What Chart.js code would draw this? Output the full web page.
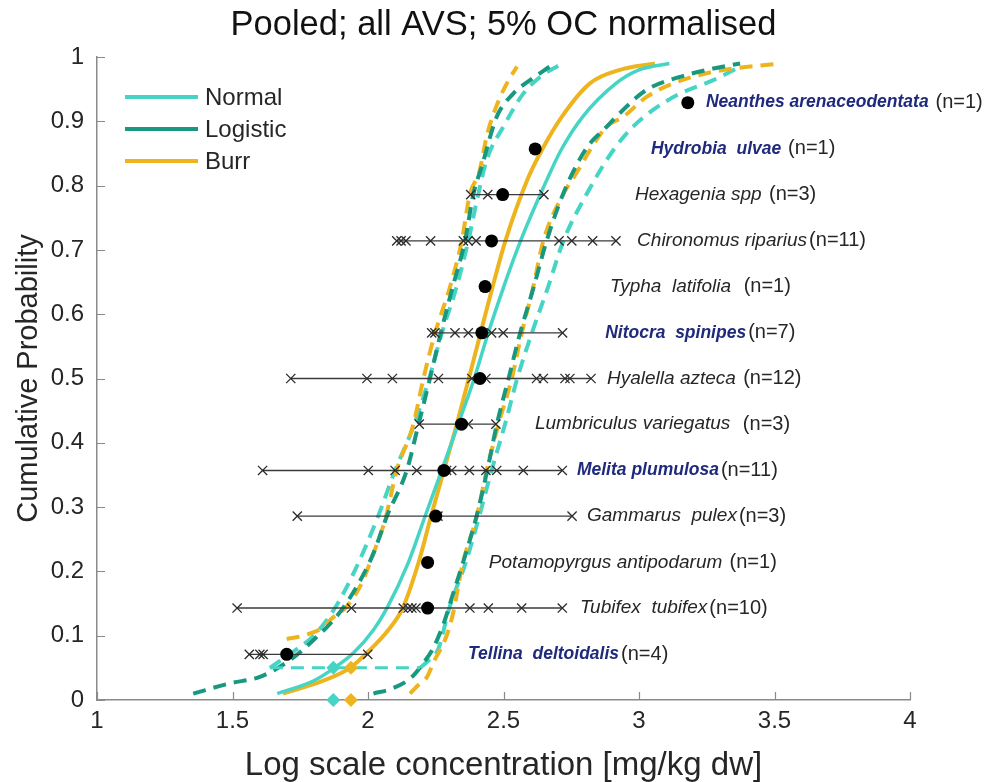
<!DOCTYPE html>
<html>
<head>
<meta charset="utf-8">
<title>Pooled SSD - all AVS, 5% OC normalised</title>
<script src="https://cdn.jsdelivr.net/npm/chart.js@4.4.0/dist/chart.umd.min.js"></script>
<style>
  html, body { margin: 0; padding: 0; background: #fff; }
</style>
</head>
<body>
<canvas id="ssdChart" width="994" height="782"></canvas>
<script>
// axis ticks
const xTicks = [1, 1.5, 2, 2.5, 3, 3.5, 4];
const yTicks = [0, 0.1, 0.2, 0.3, 0.4, 0.5, 0.6, 0.7, 0.8, 0.9, 1];

// species, ranked from the most sensitive (bottom) to the least sensitive (top)
const species = [
    'Tellina  deltoidalis', 'Tubifex  tubifex', 'Potamopyrgus antipodarum ', 'Gammarus  pulex',
    'Melita plumulosa', 'Lumbriculus variegatus  ', 'Hyalella azteca ', 'Nitocra  spinipes',
    'Typha  latifolia  ', 'Chironomus riparius', 'Hexagenia spp ', 'Hydrobia  ulvae ',
    'Neanthes arenaceodentata '
];
const saltwater = [true, false, false, false, true, false, false, true, false, false, false, true, true];
const rankProb = [0.071, 0.143, 0.214, 0.286, 0.357, 0.429, 0.5, 0.571, 0.643, 0.714, 0.786, 0.857, 0.929];
const speciesMean = [1.70, 2.22, 2.22, 2.25, 2.28, 2.345, 2.413, 2.42, 2.432, 2.456, 2.497, 2.617, 3.18];
const speciesTests = [
    [1.562, 1.601, 1.613, 1.999],
    [1.517, 1.939, 2.130, 2.148, 2.162, 2.177, 2.376, 2.444, 2.567, 2.717],
    [2.22],
    [1.739, 2.258, 2.753],
    [1.611, 2.001, 2.100, 2.180, 2.29, 2.309, 2.374, 2.435, 2.475, 2.573, 2.717],
    [2.189, 2.370, 2.472],
    [1.715, 1.996, 2.090, 2.260, 2.383, 2.41, 2.435, 2.622, 2.647, 2.727, 2.745, 2.823],
    [2.235, 2.247, 2.321, 2.370, 2.456, 2.499, 2.718],
    [2.432],
    [2.106, 2.122, 2.140, 2.231, 2.352, 2.369, 2.399, 2.705, 2.752, 2.829, 2.915],
    [2.379, 2.442, 2.649],
    [2.617],
    [3.18]
];
// log concentration where each species label starts
const labelStart = [2.369, 2.782, 2.446, 2.808, 2.771, 2.616, 2.882, 2.875, 2.893, 2.993, 2.985, 3.044, 3.247];

// fitted distributions (cumulative probability vs log concentration)
const fitProb = [0.01, 0.03, 0.05, 0.073, 0.109, 0.143, 0.213, 0.285, 0.357, 0.428, 0.5, 0.57, 0.643, 0.714, 0.809, 0.855, 0.907, 0.959, 0.98, 0.99];
const normalFitX = [1.665, 1.80, 1.876, 1.946, 2.02, 2.07, 2.148, 2.21, 2.272, 2.332, 2.392, 2.443, 2.501, 2.563, 2.66, 2.712, 2.792, 2.915, 3.0, 3.112];
const burrFitX = [1.686, 1.835, 1.934, 1.995, 2.075, 2.128, 2.186, 2.232, 2.28, 2.327, 2.372, 2.415, 2.46, 2.507, 2.588, 2.641, 2.715, 2.819, 2.93, 3.059];

// confidence bounds
const normalLoX = [1.638, 1.74, 1.80, 1.878, 1.95, 2.032, 2.10, 2.17, 2.225, 2.272, 2.327, 2.370, 2.407, 2.438, 2.50, 2.573, 2.635, 2.708];
const normalLoP = [0.05, 0.08, 0.10, 0.143, 0.2, 0.28, 0.357, 0.428, 0.499, 0.570, 0.643, 0.714, 0.787, 0.84, 0.892, 0.943, 0.969, 0.988];
const normalHiX = [2.192, 2.22, 2.26, 2.30, 2.36, 2.41, 2.456, 2.505, 2.55, 2.604, 2.665, 2.721, 2.807, 2.905, 2.979, 3.053, 3.151, 3.274, 3.373];
const normalHiP = [0.05, 0.06, 0.08, 0.143, 0.213, 0.285, 0.357, 0.428, 0.499, 0.570, 0.643, 0.714, 0.787, 0.855, 0.892, 0.918, 0.943, 0.964, 0.985];

const logisticLoX = [1.355, 1.491, 1.601, 1.712, 1.798, 1.884, 1.958, 2.02, 2.069, 2.143, 2.186, 2.228, 2.268, 2.313, 2.358, 2.389, 2.42, 2.475, 2.536, 2.598, 2.67];
const logisticLoP = [0.010, 0.026, 0.036, 0.062, 0.093, 0.13, 0.176, 0.228, 0.285, 0.357, 0.428, 0.499, 0.570, 0.643, 0.714, 0.787, 0.83, 0.907, 0.943, 0.964, 0.985];
const logisticHiX = [2.02, 2.09, 2.16, 2.20, 2.24, 2.28, 2.31, 2.35, 2.40, 2.44, 2.475, 2.518, 2.561, 2.612, 2.659, 2.72, 2.78, 2.82, 2.868, 2.942, 3.028, 3.151, 3.274, 3.373];
const logisticHiP = [0.010, 0.018, 0.035, 0.055, 0.08, 0.12, 0.16, 0.213, 0.285, 0.357, 0.428, 0.499, 0.570, 0.643, 0.714, 0.787, 0.84, 0.866, 0.886, 0.918, 0.949, 0.969, 0.982, 0.99];

const burrLoX = [1.70, 1.76, 1.835, 1.867, 1.921, 1.977, 2.02, 2.063, 2.106, 2.167, 2.204, 2.247, 2.303, 2.346, 2.376, 2.41, 2.44, 2.48, 2.52, 2.55];
const burrLoP = [0.095, 0.10, 0.113, 0.127, 0.145, 0.182, 0.228, 0.28, 0.357, 0.428, 0.499, 0.570, 0.643, 0.714, 0.787, 0.82, 0.88, 0.93, 0.965, 0.985];
const burrHiX = [2.155, 2.192, 2.218, 2.24, 2.29, 2.314, 2.35, 2.401, 2.438, 2.481, 2.53, 2.567, 2.610, 2.647, 2.721, 2.77, 2.819, 2.881, 2.942, 3.028, 3.126, 3.274, 3.52];
const burrHiP = [0.010, 0.026, 0.036, 0.057, 0.10, 0.135, 0.213, 0.285, 0.357, 0.428, 0.499, 0.570, 0.643, 0.714, 0.787, 0.82, 0.855, 0.892, 0.907, 0.938, 0.959, 0.977, 0.99];

// HC5 estimates and the normal HC5 interval
const hc5Level = 0.05;
const hc5Normal = 1.872;
const hc5Burr = 1.937;
const hc5NormalRange = [1.638, 2.192];

const NORMAL = '#46d5c5';
const LOGISTIC = '#17987f';
const BURR = '#edb41e';
const TEXT = '#262626';
const NAVY = '#1f2a7c';
const AXIS_GREY = '#8a8a8a';
const FONT = '"Liberation Sans", Arial, Helvetica, sans-serif';

const legendItems = [
    { label: 'Normal', color: NORMAL },
    { label: 'Logistic', color: LOGISTIC },
    { label: 'Burr', color: BURR }
];

const toPoints = (xs, ps) => xs.map((x, i) => ({ x: x, y: ps[i] }));

function curve(xs, ps, color, width, dashed, order) {
    return {
        data: toPoints(xs, ps),
        showLine: true,
        borderColor: color,
        borderWidth: width,
        borderDash: dashed ? [13, 8] : [],
        cubicInterpolationMode: 'monotone',
        pointRadius: 0,
        order: order
    };
}

const datasets = [];

// confidence bounds (dashed)
datasets.push(curve(normalLoX, normalLoP, NORMAL, 4, true, 8));
datasets.push(curve(normalHiX, normalHiP, NORMAL, 4, true, 8));
datasets.push(curve(burrLoX, burrLoP, BURR, 4, true, 7));
datasets.push(curve(burrHiX, burrHiP, BURR, 4, true, 7));
datasets.push(curve(logisticLoX, logisticLoP, LOGISTIC, 4, true, 6));
datasets.push(curve(logisticHiX, logisticHiP, LOGISTIC, 4, true, 6));

// fitted curves
datasets.push(curve(normalFitX, fitProb, NORMAL, 3.5, false, 5));
datasets.push(curve(burrFitX, fitProb, BURR, 4, false, 5));

// HC5 interval for the normal fit
datasets.push({
    data: hc5NormalRange.map(x => ({ x: x, y: hc5Level })),
    showLine: true,
    borderColor: NORMAL,
    borderWidth: 3,
    borderDash: [13, 8],
    pointRadius: 0,
    order: 4
});

// HC5 markers, on the curve and on the axis
[[hc5Normal, NORMAL], [hc5Burr, BURR]].forEach(([x, color]) => {
    datasets.push({
        data: [{ x: x, y: hc5Level }, { x: x, y: 0 }],
        pointStyle: 'rectRot',
        pointRadius: 7,
        backgroundColor: color,
        borderColor: color,
        borderWidth: 0,
        clip: false,
        order: 3
    });
});

// min-max range of each species
speciesTests.forEach((vals, i) => {
    datasets.push({
        data: [{ x: Math.min(...vals), y: rankProb[i] }, { x: Math.max(...vals), y: rankProb[i] }],
        showLine: true,
        borderColor: '#3a3a3a',
        borderWidth: 1.4,
        pointRadius: 0,
        order: 2
    });
});

// individual test results
datasets.push({
    data: speciesTests.flatMap((vals, i) => vals.map(v => ({ x: v, y: rankProb[i] }))),
    pointStyle: 'crossRot',
    pointRadius: 6.5,
    borderColor: '#2b2b2b',
    borderWidth: 1.3,
    order: 1
});

// species geometric means
datasets.push({
    data: speciesMean.map((m, i) => ({ x: m, y: rankProb[i] })),
    pointStyle: 'circle',
    pointRadius: 6.5,
    backgroundColor: '#000',
    borderWidth: 0,
    order: 0
});

const overlayPlugin = {
    id: 'overlay',
    afterDraw(chart) {
        const { ctx, chartArea: area } = chart;
        const xs = chart.scales.x;
        const ys = chart.scales.y;
        ctx.save();

        // tick marks point into the plot
        ctx.strokeStyle = AXIS_GREY;
        ctx.lineWidth = 1.2;
        ctx.beginPath();
        xs.ticks.forEach(t => {
            const px = Math.round(xs.getPixelForValue(t.value)) + 0.5;
            ctx.moveTo(px, area.bottom);
            ctx.lineTo(px, area.bottom - 8);
        });
        ys.ticks.forEach(t => {
            const py = Math.round(ys.getPixelForValue(t.value)) + 0.5;
            ctx.moveTo(area.left, py);
            ctx.lineTo(area.left + 8, py);
        });
        ctx.stroke();

        // title
        ctx.fillStyle = '#111';
        ctx.font = `34.5px ${FONT}`;
        ctx.textAlign = 'center';
        ctx.textBaseline = 'middle';
        ctx.fillText('Pooled; all AVS; 5% OC normalised', (area.left + area.right) / 2, 25);

        // legend
        ctx.textAlign = 'left';
        ctx.font = `24px ${FONT}`;
        legendItems.forEach((item, i) => {
            const y = area.top + 40 + i * 32;
            ctx.strokeStyle = item.color;
            ctx.lineWidth = 4;
            ctx.beginPath();
            ctx.moveTo(area.left + 28, y);
            ctx.lineTo(area.left + 101, y);
            ctx.stroke();
            ctx.fillStyle = TEXT;
            ctx.fillText(item.label, area.left + 108, y + 1);
        });

        // species labels
        species.forEach((name, i) => {
            const x = xs.getPixelForValue(labelStart[i]);
            const y = ys.getPixelForValue(rankProb[i]);
            ctx.font = saltwater[i] ? `italic bold 17.5px ${FONT}` : `italic 19px ${FONT}`;
            ctx.fillStyle = saltwater[i] ? NAVY : TEXT;
            ctx.fillText(name, x, y);
            const w = ctx.measureText(name).width;
            ctx.font = `20px ${FONT}`;
            ctx.fillStyle = TEXT;
            ctx.fillText(`(n=${speciesTests[i].length})`, x + w + 2, y);
        });

        ctx.restore();
    }
};

Chart.defaults.font.family = FONT;

new Chart(document.getElementById('ssdChart'), {
    type: 'scatter',
    data: { datasets: datasets },
    options: {
        responsive: false,
        animation: false,
        events: [],
        layout: { padding: { top: 57, right: 84, bottom: 0, left: 0 } },
        plugins: {
            legend: { display: false },
            tooltip: { enabled: false }
        },
        scales: {
            x: {
                type: 'linear',
                min: 1,
                max: 4,
                afterBuildTicks: s => { s.ticks = xTicks.map(v => ({ value: v })); },
                afterFit: s => { s.height = 82; s.paddingLeft = 0; s.paddingRight = 0; },
                grid: { display: false, drawTicks: false },
                border: { display: true, color: AXIS_GREY, width: 1.5 },
                ticks: {
                    padding: 7,
                    color: TEXT,
                    autoSkip: false,
                    maxRotation: 0,
                    font: { size: 24 },
                    callback: v => String(v)
                },
                title: {
                    display: true,
                    text: 'Log scale concentration [mg/kg dw]',
                    color: TEXT,
                    font: { size: 33, lineHeight: 1 },
                    padding: 0
                }
            },
            y: {
                type: 'linear',
                min: 0,
                max: 1,
                afterBuildTicks: s => { s.ticks = yTicks.map(v => ({ value: v })); },
                afterFit: s => { s.width = 97; s.paddingTop = 0; s.paddingBottom = 0; },
                grid: { display: false, drawTicks: false },
                border: { display: true, color: AXIS_GREY, width: 1.5 },
                ticks: {
                    padding: 13,
                    color: TEXT,
                    font: { size: 24 },
                    callback: v => String(v)
                },
                title: {
                    display: true,
                    text: 'Cumulative Probability',
                    color: TEXT,
                    font: { size: 29, lineHeight: 1 },
                    padding: { top: 14, bottom: 0 }
                }
            }
        }
    },
    plugins: [overlayPlugin]
});
</script>
</body>
</html>
